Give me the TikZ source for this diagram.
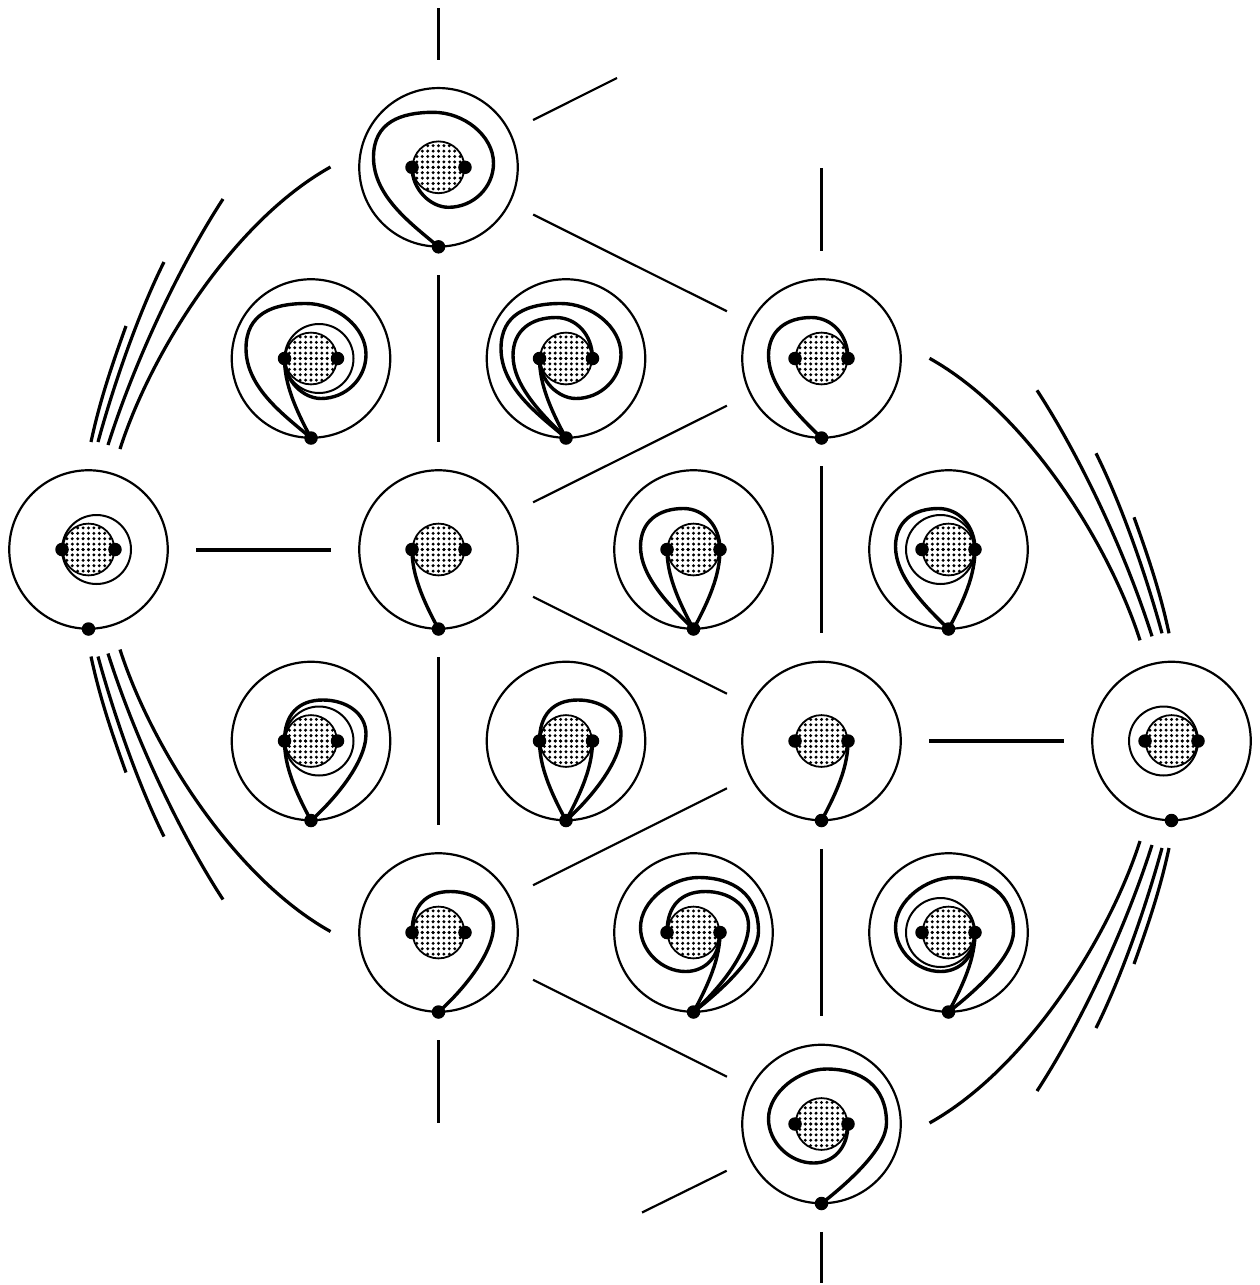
\documentclass[tikz,border=0pt]{standalone}
\tikzset{
  disc/.style={circle,draw,line width=2.2pt,minimum size=158.5pt,inner sep=0pt,outer sep=0pt},
  pt/.style={circle,fill=black,minimum size=13.5pt,inner sep=0pt,outer sep=0pt},
  wire/.style={line width=3.4pt,line join=round,line cap=round},
  ring/.style={line width=2pt},
  link/.style={line width=2.2pt},
  vlink/.style={line width=3pt},
  hlink/.style={line width=4pt},
  gapped/.style={shorten >=28.5pt,shorten <=28.5pt},
  gapdiag/.style={shorten >=26.5pt,shorten <=26.5pt},
  gapstart/.style={shorten <=28.5pt},
  gapdiagstart/.style={shorten <=26.5pt},
  farc/.style={line width=3.2pt},
}
% curves inside a disc, local coordinates
\newcommand\cIL{\draw[wire] (0,79.5) .. controls (-16,50) and (-26.5,25) .. (-26.5,0);}
\newcommand\cIR{\draw[wire] (0,79.5) .. controls (16,50) and (26.5,25) .. (26.5,0);}
\newcommand\cTR{\draw[wire] (0,79.5) .. controls (-22,58) and (-53,28) .. (-53,-3)
  .. controls (-53,-28) and (-35,-41) .. (-10,-41)
  .. controls (10,-41) and (26.5,-24) .. (26.5,0);}
\newcommand\cTL{\draw[wire] (0,79.5) .. controls (22,60) and (55,22) .. (55,-7)
  .. controls (55,-28) and (35,-41) .. (12,-41)
  .. controls (-13,-41) and (-26.5,-26) .. (-26.5,0);}
\newcommand\cSL{\draw[wire] (0,79.5) .. controls (-25,58) and (-65,30) .. (-65,-10)
  .. controls (-65,-45) and (-38,-55) .. (-5,-55)
  .. controls (25,-55) and (55,-32) .. (55,-4)
  .. controls (55,20) and (35,40) .. (10,40)
  .. controls (-8,40) and (-26.5,22) .. (-26.5,0);}
\newcommand\cSR{\draw[wire] (0,79.5) .. controls (25,60) and (65,25) .. (65,-1)
  .. controls (65,-38) and (40,-55) .. (5,-55)
  .. controls (-22,-55) and (-53,-32) .. (-53,-5)
  .. controls (-53,18) and (-32,39) .. (-8,39)
  .. controls (12,39) and (26.5,24) .. (26.5,0);}
\newcommand\cRr{\draw[ring] (8,0) circle (34.5pt);}
\newcommand\cRl{\draw[ring] (-8,0) circle (34.5pt);}
\newcommand\Disc[4]{%
  \node[disc] (#1) at (#2,#3) {};
  \begin{scope}[shift={(#1.center)}]
    \draw[line width=1.8pt] (0,0) circle (25.9pt);
    \foreach \j/\n in {0/4,1/4,2/4,3/3,4/2}{
      \foreach \i in {-\n,...,\n}{
        \fill (\i*5.4,\j*5.4) circle (1.65pt);
        \fill (\i*5.4,-\j*5.4) circle (1.65pt);
      }
    }
    #4
    \node[pt] (#1l) at (-26.5,0) {};
    \node[pt] (#1r) at (26.5,0) {};
    \node[pt] (#1b) at (0,79.5) {};
  \end{scope}}
\newcommand\ArcSet[1]{%
  \coordinate (#1a0) at (120,449); \coordinate (#1a1) at (330.5,167);
  \coordinate (#1b0) at (108,445); \coordinate (#1b1) at (223,199);
  \coordinate (#1c0) at (98,442);  \coordinate (#1c1) at (164,262);
  \coordinate (#1d0) at (91,442);  \coordinate (#1d1) at (126,326);
  \draw[farc] (#1a0) .. controls (150,355) and (232,222) .. (#1a1);
  \draw[farc] (#1b0) .. controls (135,360) and (180,265) .. (#1b1);
  \draw[farc] (#1c0) .. controls (115,380) and (140,310) .. (#1c1);
  \draw[farc] (#1d0) .. controls (100,400) and (112,365) .. (#1d1);}
\begin{document}
\begin{tikzpicture}[x=1pt,y=-1pt]
\useasboundingbox (0,0) rectangle (1259,1285);
\Disc{A}{438.5}{167.3}{\cSL}
\Disc{B}{311}{358.5}{\cRr\cSL\cIL}
\Disc{C}{566}{358.5}{\cSL\cTR\cIL}
\Disc{D}{821.5}{358.5}{\cTR}
\Disc{E}{88.5}{549.5}{\cRr}
\Disc{F}{438.5}{549.5}{\cIL}
\Disc{G}{693.5}{549.5}{\cTR\cIL\cIR}
\Disc{H}{948.5}{549.5}{\cRl\cTR\cIR}
\Disc{I}{311}{741}{\cRr\cTL\cIL}
\Disc{J}{566}{741}{\cTL\cIL\cIR}
\Disc{K}{821.5}{741}{\cIR}
\Disc{M}{1171.5}{741}{\cRl}
\Disc{N}{438.5}{932.5}{\cTL}
\Disc{O}{693.5}{932.5}{\cSR\cTL\cIR}
\Disc{P}{948.5}{932.5}{\cRl\cSR\cIR}
\Disc{Q}{821.5}{1124}{\cSR}
% links between discs
\draw[vlink,gapped] (A) -- (F);
\draw[vlink,gapped] (F) -- (N);
\draw[vlink,gapped] (D) -- (K);
\draw[vlink,gapped] (K) -- (Q);
\draw[hlink,gapped] (E) -- (F);
\draw[hlink,gapped] (K) -- (M);
\draw[link,gapdiag] (A) -- (D);
\draw[link,gapdiag] (F) -- (D);
\draw[link,gapdiag] (F) -- (K);
\draw[link,gapdiag] (N) -- (K);
\draw[link,gapdiag] (N) -- (Q);
% stubs with free ends
\coordinate (s1) at (438.5,8);
\coordinate (s2) at (617,78);
\coordinate (s3) at (821.5,168);
\coordinate (s4) at (438.5,1123);
\coordinate (s5) at (642,1212.5);
\coordinate (s6) at (821.5,1283);
\draw[vlink,gapstart] (A) -- (s1);
\draw[link,gapdiagstart] (A) -- (s2);
\draw[vlink,gapstart] (D) -- (s3);
\draw[vlink,gapstart] (N) -- (s4);
\draw[link,gapdiagstart] (Q) -- (s5);
\draw[vlink,gapstart] (Q) -- (s6);
% families of arcs
\begin{scope} \ArcSet{tl} \end{scope}
\begin{scope}[shift={(0,1098.5)},yscale=-1] \ArcSet{bl} \end{scope}
\begin{scope}[shift={(1260,191.3)},xscale=-1] \ArcSet{tr} \end{scope}
\begin{scope}[shift={(1260,1290)},xscale=-1,yscale=-1] \ArcSet{br} \end{scope}
\end{tikzpicture}
\end{document}
